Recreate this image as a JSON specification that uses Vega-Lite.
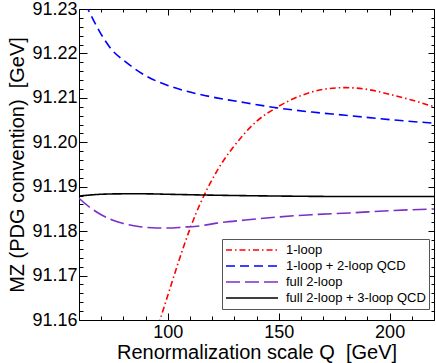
{
  "$schema": "https://vega.github.io/schema/vega-lite/v6.json",
  "width": 355,
  "height": 311,
  "autosize": {"type": "none"},
  "padding": {"left": 79, "top": 9, "right": 2, "bottom": 43},
  "config": {
    "view": {"stroke": "black", "strokeWidth": 1},
    "axis": {"grid": false, "domain": false, "labelFont": "Liberation Sans", "titleFont": "Liberation Sans", "labelColor": "black", "titleColor": "black", "tickColor": "black", "tickWidth": 1, "titleFontWeight": "normal"},
    "legend": {"labelFont": "Liberation Sans"}
  },
  "data": {"values": [
    {"series": "1-loop", "x": 92, "y": 91.153},
    {"series": "1-loop", "x": 96.5, "y": 91.16},
    {"series": "1-loop", "x": 100, "y": 91.1655},
    {"series": "1-loop", "x": 105, "y": 91.1733},
    {"series": "1-loop", "x": 110, "y": 91.1805},
    {"series": "1-loop", "x": 115, "y": 91.1866},
    {"series": "1-loop", "x": 120, "y": 91.1916},
    {"series": "1-loop", "x": 125, "y": 91.1958},
    {"series": "1-loop", "x": 130, "y": 91.1992},
    {"series": "1-loop", "x": 140, "y": 91.2047},
    {"series": "1-loop", "x": 150, "y": 91.2081},
    {"series": "1-loop", "x": 160, "y": 91.2105},
    {"series": "1-loop", "x": 170, "y": 91.2119},
    {"series": "1-loop", "x": 180, "y": 91.2123},
    {"series": "1-loop", "x": 190, "y": 91.2119},
    {"series": "1-loop", "x": 200, "y": 91.2108},
    {"series": "1-loop", "x": 210, "y": 91.2095},
    {"series": "1-loop", "x": 220, "y": 91.208},
    {"series": "1-loop + 2-loop QCD", "x": 60, "y": 91.234},
    {"series": "1-loop + 2-loop QCD", "x": 64, "y": 91.23},
    {"series": "1-loop + 2-loop QCD", "x": 70, "y": 91.2243},
    {"series": "1-loop + 2-loop QCD", "x": 75, "y": 91.2207},
    {"series": "1-loop + 2-loop QCD", "x": 80, "y": 91.2185},
    {"series": "1-loop + 2-loop QCD", "x": 85, "y": 91.2166},
    {"series": "1-loop + 2-loop QCD", "x": 90, "y": 91.215},
    {"series": "1-loop + 2-loop QCD", "x": 100, "y": 91.2128},
    {"series": "1-loop + 2-loop QCD", "x": 110, "y": 91.2113},
    {"series": "1-loop + 2-loop QCD", "x": 122, "y": 91.21},
    {"series": "1-loop + 2-loop QCD", "x": 135, "y": 91.2089},
    {"series": "1-loop + 2-loop QCD", "x": 150, "y": 91.2077},
    {"series": "1-loop + 2-loop QCD", "x": 165, "y": 91.2068},
    {"series": "1-loop + 2-loop QCD", "x": 180, "y": 91.2061},
    {"series": "1-loop + 2-loop QCD", "x": 200, "y": 91.2051},
    {"series": "1-loop + 2-loop QCD", "x": 220, "y": 91.2043},
    {"series": "full 2-loop", "x": 60, "y": 91.1874},
    {"series": "full 2-loop", "x": 65, "y": 91.1853},
    {"series": "full 2-loop", "x": 70, "y": 91.1837},
    {"series": "full 2-loop", "x": 75, "y": 91.1825},
    {"series": "full 2-loop", "x": 80, "y": 91.1817},
    {"series": "full 2-loop", "x": 87.5, "y": 91.181},
    {"series": "full 2-loop", "x": 95, "y": 91.1807},
    {"series": "full 2-loop", "x": 100, "y": 91.1807},
    {"series": "full 2-loop", "x": 107, "y": 91.1809},
    {"series": "full 2-loop", "x": 115, "y": 91.1812},
    {"series": "full 2-loop", "x": 122, "y": 91.1818},
    {"series": "full 2-loop", "x": 135, "y": 91.1825},
    {"series": "full 2-loop", "x": 150, "y": 91.1832},
    {"series": "full 2-loop", "x": 165, "y": 91.1837},
    {"series": "full 2-loop", "x": 182, "y": 91.1841},
    {"series": "full 2-loop", "x": 200, "y": 91.1846},
    {"series": "full 2-loop", "x": 220, "y": 91.185},
    {"series": "full 2-loop + 3-loop QCD", "x": 60, "y": 91.1879},
    {"series": "full 2-loop + 3-loop QCD", "x": 70, "y": 91.1883},
    {"series": "full 2-loop + 3-loop QCD", "x": 80, "y": 91.1884},
    {"series": "full 2-loop + 3-loop QCD", "x": 90, "y": 91.1884},
    {"series": "full 2-loop + 3-loop QCD", "x": 100, "y": 91.1883},
    {"series": "full 2-loop + 3-loop QCD", "x": 120, "y": 91.1881},
    {"series": "full 2-loop + 3-loop QCD", "x": 150, "y": 91.1879},
    {"series": "full 2-loop + 3-loop QCD", "x": 180, "y": 91.1878},
    {"series": "full 2-loop + 3-loop QCD", "x": 220, "y": 91.1878}
  ]},
  "resolve": {"axis": {"x": "independent", "y": "independent"}},
  "layer": [
    {
      "mark": {"type": "line", "strokeWidth": 1.6, "clip": true, "interpolate": "monotone"},
      "encoding": {
        "x": {"field": "x", "type": "quantitative", "scale": {"domain": [60, 220], "nice": false, "zero": false},
              "axis": {"values": [100, 150, 200], "ticks": false, "labelFontSize": 18, "labelPadding": 3, "title": "Renormalization scale Q\u00a0\u00a0[GeV]", "titleFontSize": 20, "titlePadding": 1}},
        "y": {"field": "y", "type": "quantitative", "scale": {"domain": [91.16, 91.23], "nice": false, "zero": false},
              "axis": {"values": [91.16, 91.17, 91.18, 91.19, 91.2, 91.21, 91.22, 91.23], "format": ".2f", "ticks": false, "labelFontSize": 18, "labelPadding": 2, "title": "MZ (PDG convention)\u00a0\u00a0[GeV]", "titleFontSize": 20, "titlePadding": 4}},
        "color": {"field": "series", "type": "nominal",
                  "scale": {"domain": ["1-loop", "1-loop + 2-loop QCD", "full 2-loop", "full 2-loop + 3-loop QCD"], "range": ["#ff0000", "#0000ff", "#7a2fc8", "#000000"]},
                  "legend": {"orient": "none", "legendX": 143, "legendY": 230, "title": null, "symbolType": "stroke", "symbolSize": 2704, "symbolStrokeWidth": 1.6, "labelFontSize": 13, "labelColor": "black", "strokeColor": "#555555", "fillColor": "white", "padding": 3, "clipHeight": 16, "rowPadding": 0, "labelOffset": 7}},
        "strokeDash": {"field": "series", "type": "nominal",
                  "scale": {"domain": ["1-loop", "1-loop + 2-loop QCD", "full 2-loop", "full 2-loop + 3-loop QCD"], "range": [[6, 3, 1.5, 3], [9, 5], [14, 5], [1, 0]]},
                  "legend": {"orient": "none", "legendX": 143, "legendY": 230, "title": null, "symbolType": "stroke", "symbolSize": 2704, "symbolStrokeWidth": 1.6, "labelFontSize": 13, "labelColor": "black", "strokeColor": "#555555", "fillColor": "white", "padding": 3, "clipHeight": 16, "rowPadding": 0, "labelOffset": 7}}
      }
    },
    {
      "mark": {"type": "point", "opacity": 0},
      "encoding": {
        "x": {"field": "x", "type": "quantitative", "axis": {"orient": "bottom", "values": [100, 150, 200], "tickSize": -7, "labels": false, "title": null}},
        "y": {"field": "y", "type": "quantitative", "axis": {"orient": "left", "values": [91.16, 91.17, 91.18, 91.19, 91.2, 91.21, 91.22, 91.23], "tickSize": -8, "labels": false, "title": null}}
      }
    },
    {
      "mark": {"type": "point", "opacity": 0},
      "encoding": {
        "x": {"field": "x", "type": "quantitative", "axis": {"orient": "bottom", "values": [60, 70, 80, 90, 110, 120, 130, 140, 160, 170, 180, 190, 210, 220], "tickSize": -4, "labels": false, "title": null}},
        "y": {"field": "y", "type": "quantitative", "axis": {"orient": "left", "values": [91.162, 91.164, 91.166, 91.168, 91.172, 91.174, 91.176, 91.178, 91.182, 91.184, 91.186, 91.188, 91.192, 91.194, 91.196, 91.198, 91.202, 91.204, 91.206, 91.208, 91.212, 91.214, 91.216, 91.218, 91.222, 91.224, 91.226, 91.228], "tickSize": -4, "labels": false, "title": null}}
      }
    },
    {
      "mark": {"type": "point", "opacity": 0},
      "encoding": {
        "x": {"field": "x", "type": "quantitative", "axis": {"orient": "top", "values": [100, 150, 200], "tickSize": -6, "labels": false, "title": null}},
        "y": {"field": "y", "type": "quantitative", "axis": {"orient": "right", "values": [91.16, 91.17, 91.18, 91.19, 91.2, 91.21, 91.22, 91.23], "tickSize": -6, "labels": false, "title": null}}
      }
    },
    {
      "mark": {"type": "point", "opacity": 0},
      "encoding": {
        "x": {"field": "x", "type": "quantitative", "axis": {"orient": "top", "values": [60, 70, 80, 90, 110, 120, 130, 140, 160, 170, 180, 190, 210, 220], "tickSize": -3, "labels": false, "title": null}},
        "y": {"field": "y", "type": "quantitative", "axis": {"orient": "right", "values": [91.162, 91.164, 91.166, 91.168, 91.172, 91.174, 91.176, 91.178, 91.182, 91.184, 91.186, 91.188, 91.192, 91.194, 91.196, 91.198, 91.202, 91.204, 91.206, 91.208, 91.212, 91.214, 91.216, 91.218, 91.222, 91.224, 91.226, 91.228], "tickSize": -3, "labels": false, "title": null}}
      }
    }
  ]
}
